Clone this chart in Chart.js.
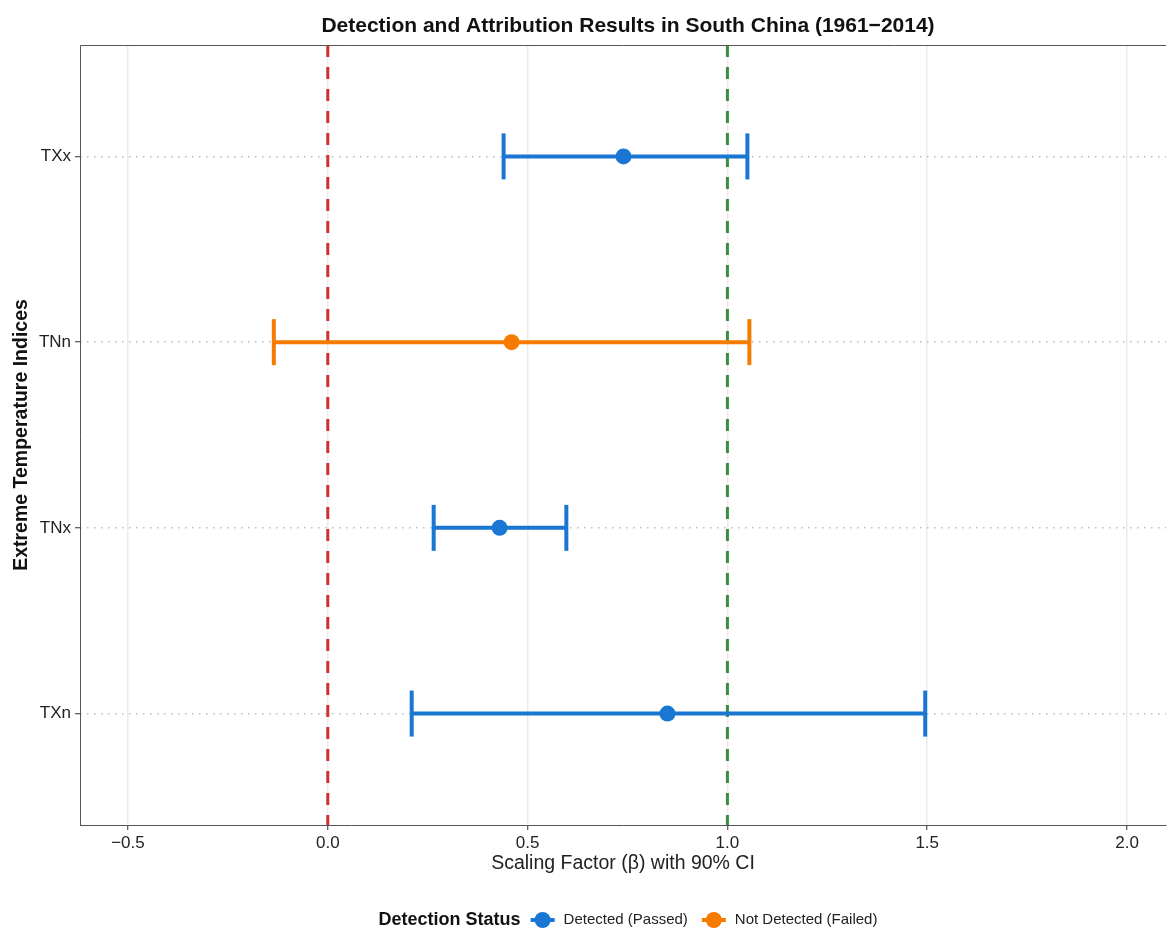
<!DOCTYPE html>
<html>
<head>
<meta charset="utf-8">
<script src="https://cdn.jsdelivr.net/npm/chart.js@4.4.1/dist/chart.umd.min.js"></script>
<style>
  html, body { margin: 0; padding: 0; background: #fff; }
  canvas { display: block; }
</style>
</head>
<body>
<canvas id="chart" width="1167" height="928"></canvas>
<script>
// data
const indices = ['TXx', 'TNn', 'TNx', 'TXn'];
const beta = [0.74, 0.46, 0.43, 0.85];
const ciLow = [0.44, -0.135, 0.265, 0.21];
const ciHigh = [1.05, 1.055, 0.597, 1.495];
const detection = ['Detected (Passed)', 'Not Detected (Failed)', 'Detected (Passed)', 'Detected (Passed)'];
const statusLabels = ['Detected (Passed)', 'Not Detected (Failed)'];
const statusColors = ['#1976D2', '#F57C00'];
const xTicks = [-0.5, 0, 0.5, 1, 1.5, 2];
const refLines = [0, 1];
const refColors = ['#D32F2F', '#388E3C'];

const FONT = "'Liberation Sans', Arial, Helvetica, sans-serif";
Chart.defaults.font.family = FONT;

const datasets = [];
refLines.forEach((v, k) => {
  datasets.push({
    type: 'line',
    data: [{ x: v, y: 0.4 }, { x: v, y: 4.6 }],
    borderColor: refColors[k],
    borderWidth: 3,
    borderDash: [12, 10],
    pointRadius: 0,
    order: 5
  });
});

indices.forEach((name, i) => {
  const c = statusColors[statusLabels.indexOf(detection[i])];
  const ends = [{ x: ciLow[i], y: i + 1 }, { x: ciHigh[i], y: i + 1 }];
  // CI bar
  datasets.push({ type: 'line', data: ends, borderColor: c, borderWidth: 4, pointRadius: 0, order: 3 });
  // caps
  datasets.push({
    type: 'scatter', data: ends, pointStyle: 'line', rotation: 90,
    pointRadius: 23, borderColor: c, borderWidth: 4, order: 2
  });
  // estimate
  datasets.push({
    type: 'scatter', data: [{ x: beta[i], y: i + 1 }],
    pointRadius: 8, backgroundColor: c, borderColor: c, borderWidth: 0, order: 1
  });
});

// title, top/left frame and legend
const decor = {
  id: 'decor',
  afterDraw(chart) {
    const ctx = chart.ctx;
    const a = chart.chartArea;
    ctx.save();
    ctx.strokeStyle = '#555';
    ctx.lineWidth = 1;
    ctx.beginPath();
    ctx.moveTo(a.left + 0.5, a.bottom);
    ctx.lineTo(a.left + 0.5, a.top + 0.5);
    ctx.lineTo(a.right, a.top + 0.5);
    ctx.stroke();

    const cx = (a.left + a.right) / 2 + 5;
    ctx.fillStyle = '#111';
    ctx.font = 'bold 21px ' + FONT;
    ctx.textAlign = 'center';
    ctx.textBaseline = 'middle';
    ctx.fillText('Detection and Attribution Results in South China (1961\u22122014)', cx, 26);

    // legend
    const ly = 920;
    ctx.font = 'bold 18px ' + FONT;
    const titleW = ctx.measureText('Detection Status').width;
    ctx.font = '15px ' + FONT;
    const widths = statusLabels.map(s => ctx.measureText(s).width);
    const keyW = 24;
    const total = titleW + 10 + widths.reduce((s, w) => s + keyW + 9 + w, 0) + 14;
    let x = cx - total / 2;
    ctx.textAlign = 'left';
    ctx.fillStyle = '#111';
    ctx.font = 'bold 18px ' + FONT;
    ctx.fillText('Detection Status', x, ly);
    x += titleW + 10;
    ctx.font = '15px ' + FONT;
    statusLabels.forEach((s, k) => {
      ctx.strokeStyle = statusColors[k];
      ctx.fillStyle = statusColors[k];
      ctx.lineWidth = 4;
      ctx.beginPath();
      ctx.moveTo(x, ly);
      ctx.lineTo(x + keyW, ly);
      ctx.stroke();
      ctx.beginPath();
      ctx.arc(x + keyW / 2, ly, 8, 0, Math.PI * 2);
      ctx.fill();
      x += keyW + 9;
      ctx.fillStyle = '#222';
      ctx.fillText(s, x, ly);
      x += widths[k] + 14;
    });
    ctx.restore();
  }
};

new Chart(document.getElementById('chart'), {
  data: { datasets: datasets },
  options: {
    responsive: false,
    animation: false,
    events: [],
    layout: { autoPadding: false, padding: { top: 45, right: 1, bottom: 48, left: 0 } },
    plugins: { legend: { display: false }, tooltip: { enabled: false }, title: { display: false } },
    scales: {
      x: {
        type: 'linear',
        min: -0.62,
        max: 2.0975,
        afterBuildTicks: s => { s.ticks = xTicks.map(v => ({ value: v })); },
        afterFit: s => { s.height = 55; s.paddingLeft = 0; s.paddingRight = 0; },
        ticks: {
          callback: v => v.toFixed(1).replace('-', '\u2212'),
          color: '#222',
          font: { size: 17 },
          padding: 3,
          autoSkip: false,
          maxRotation: 0
        },
        grid: { color: '#ebebeb', lineWidth: 1.5, tickColor: '#333', tickLength: 5, tickWidth: 1 },
        border: { color: '#555', width: 1 },
        title: {
          display: true,
          text: 'Scaling Factor (\u03B2) with 90% CI',
          color: '#222',
          font: { size: 19.5 },
          padding: { top: 0, bottom: 5 }
        }
      },
      y: {
        type: 'linear',
        reverse: true,
        min: 0.4,
        max: 4.6,
        afterBuildTicks: s => { s.ticks = indices.map((n, i) => ({ value: i + 1 })); },
        afterFit: s => { s.width = 80; s.paddingTop = 0; s.paddingBottom = 0; },
        ticks: {
          callback: v => indices[v - 1],
          color: '#222',
          font: { size: 17 },
          padding: 4
        },
        grid: {
          color: '#bdbdbd', lineWidth: 1.5,
          tickColor: '#333', tickLength: 5, tickWidth: 1, tickBorderDash: [1, 0]
        },
        border: { display: false, dash: [1.5, 5.5] },
        title: {
          display: true,
          text: 'Extreme Temperature Indices',
          color: '#111',
          font: { size: 19.5, weight: 'bold' },
          padding: { top: 10, bottom: 0 }
        }
      }
    }
  },
  plugins: [decor]
});
</script>
</body>
</html>
